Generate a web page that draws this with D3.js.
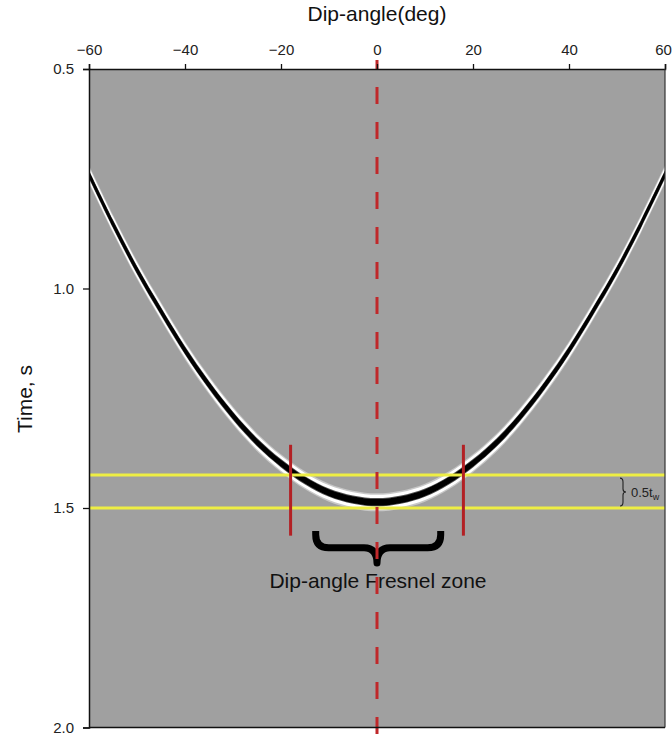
<!DOCTYPE html>
<html>
<head>
<meta charset="utf-8">
<script src="https://cdn.jsdelivr.net/npm/d3@7"></script>
<style>
  html, body { margin: 0; padding: 0; background: #fff; }
  svg { display: block; font-family: "Liberation Sans", Arial, sans-serif; }
</style>
</head>
<body>
<svg id="chart" width="672" height="740"></svg>
<script>
// Dip-angle axis (degrees) and time axis (seconds)
const angleTicks = [-60, -40, -20, 0, 20, 40, 60];
const timeTicks = [0.5, 1.0, 1.5, 2.0];

// Travel time of the event's central peak across dip angles
const dipAngles = [-60, -55, -50, -45, -40, -35, -30, -25, -20, -15, -10, -5, 0,
                   5, 10, 15, 20, 25, 30, 35, 40, 45, 50, 55, 60];
const peakTimes = [0.740, 0.853, 0.958, 1.052, 1.141, 1.220, 1.290, 1.350, 1.398, 1.437, 1.465, 1.481, 1.487,
                   1.481, 1.465, 1.437, 1.398, 1.350, 1.290, 1.220, 1.141, 1.052, 0.958, 0.853, 0.740];

// Reference times bounding half a wavelet period
const zoneTimes = [1.425, 1.5];
// Dip angles limiting the Fresnel zone
const zoneAngles = [-18, 18];
// Extent of the brace beneath the zone
const braceAngles = [-13.5, 14];

const svg = d3.select("#chart");
const x = d3.scaleLinear().domain([-60, 60]).range([89, 665]);
const y = d3.scaleLinear().domain([0.5, 2.0]).range([69, 727.5]);

const fmt = d => d < 0 ? "\u2212" + Math.abs(d) : String(d);

// plot background
svg.append("rect")
  .attr("x", x(-60)).attr("y", y(0.5))
  .attr("width", x(60) - x(-60)).attr("height", y(2.0) - y(0.5))
  .attr("fill", "#a0a0a0");

const defs = svg.append("defs");
defs.append("clipPath").attr("id", "plotClip")
  .append("rect")
  .attr("x", x(-60)).attr("y", y(0.5))
  .attr("width", x(60) - x(-60)).attr("height", y(2.0) - y(0.5));
defs.append("filter").attr("id", "soft")
  .attr("x", "-10%").attr("y", "-10%").attr("width", "120%").attr("height", "120%")
  .append("feGaussianBlur").attr("stdDeviation", 0.6);

// wavelet drawn as layered bands offset in time around the peak
const pts = dipAngles.map((a, i) => ({ a, t: peakTimes[i] }));
const band = half => d3.area()
  .x(d => x(d.a))
  .y0(d => y(d.t - half))
  .y1(d => y(d.t + half))
  .curve(d3.curveCatmullRom.alpha(0.5));

const layers = [
  { half: 0.0205, fill: "#c8c8c8" },
  { half: 0.0170, fill: "#ffffff" },
  { half: 0.0095, fill: "#505050" },
  { half: 0.0074, fill: "#000000" }
];
const wave = svg.append("g").attr("clip-path", "url(#plotClip)")
  .append("g").attr("filter", "url(#soft)");
layers.forEach(l => {
  wave.append("path").datum(pts).attr("d", band(l.half)).attr("fill", l.fill);
});

// horizontal time markers
svg.append("g").selectAll("line").data(zoneTimes).join("line")
  .attr("x1", x(-60)).attr("x2", x(60))
  .attr("y1", d => y(d)).attr("y2", d => y(d))
  .attr("stroke", "#eeee44").attr("stroke-width", 3);

// Fresnel zone limits
svg.append("g").selectAll("line").data(zoneAngles).join("line")
  .attr("x1", d => x(d)).attr("x2", d => x(d))
  .attr("y1", y(1.356)).attr("y2", y(1.563))
  .attr("stroke", "#b32024").attr("stroke-width", 3);

// brace under the zone
const bl = x(braceAngles[0]) + 3.5, br = x(braceAngles[1]) - 3.5, bc = x(0);
const bTop = y(1.5524), bBar = y(1.5905), bTip = y(1.6255);
const r = 13;
svg.append("path")
  .attr("d", `M${bl},${bTop} L${bl},${bBar - r} Q${bl},${bBar} ${bl + r},${bBar} L${bc - r},${bBar} Q${bc},${bBar} ${bc},${bTip}` +
             ` Q${bc},${bBar} ${bc + r},${bBar} L${br - r},${bBar} Q${br},${bBar} ${br},${bBar - r} L${br},${bTop}`)
  .attr("fill", "none").attr("stroke", "#000").attr("stroke-width", 7)
  .attr("stroke-linejoin", "round");

svg.append("text")
  .attr("x", x(0.2)).attr("y", 588)
  .attr("text-anchor", "middle")
  .attr("font-size", 21).attr("fill", "#111")
  .text("Dip-angle Fresnel zone");

// small brace marking half a wavelet period
const sx = 622, sy0 = y(zoneTimes[0]) + 3, sy1 = y(zoneTimes[1]) - 2, sm = (sy0 + sy1) / 2;
svg.append("path")
  .attr("d", `M${sx - 2},${sy0} Q${sx + 1},${sy0} ${sx + 1},${sy0 + 4} L${sx + 1},${sm - 3} Q${sx + 1},${sm} ${sx + 4},${sm}` +
             ` Q${sx + 1},${sm} ${sx + 1},${sm + 3} L${sx + 1},${sy1 - 4} Q${sx + 1},${sy1} ${sx - 2},${sy1}`)
  .attr("fill", "none").attr("stroke", "#222").attr("stroke-width", 1.1);
const lbl = svg.append("text").attr("x", 631).attr("y", 497)
  .attr("font-size", 13).attr("fill", "#222");
lbl.append("tspan").text("0.5t");
lbl.append("tspan").attr("font-size", 9).attr("dy", 3).text("w");

// zero-dip reference
svg.append("line")
  .attr("x1", x(0)).attr("x2", x(0))
  .attr("y1", 60).attr("y2", 740)
  .attr("stroke", "#c0282a").attr("stroke-width", 3)
  .attr("stroke-dasharray", "17,18").attr("stroke-dashoffset", 8);

// axes
const topAxis = svg.append("g").attr("transform", `translate(0,${y(0.5)})`)
  .call(d3.axisTop(x).tickValues(angleTicks).tickFormat(fmt).tickSize(5).tickPadding(9));
const leftAxis = svg.append("g").attr("transform", `translate(${x(-60)},0)`)
  .call(d3.axisLeft(y).tickValues(timeTicks).tickFormat(d3.format(".1f")).tickSize(6).tickPadding(9));
[topAxis, leftAxis].forEach(g => {
  g.select(".domain").attr("stroke", "#111").attr("stroke-width", 1.5);
  g.selectAll(".tick line").attr("stroke", "#111").attr("stroke-width", 1.3);
  g.selectAll(".tick text").attr("font-size", 15).attr("fill", "#222")
    .attr("font-family", "'Liberation Sans', Arial, sans-serif");
});
// keep the last angle label inside the page
topAxis.selectAll(".tick text").filter(d => d === 60).attr("dx", -2);

// right and bottom borders
svg.append("line").attr("x1", x(60)).attr("x2", x(60)).attr("y1", y(0.5)).attr("y2", y(2.0))
  .attr("stroke", "#333").attr("stroke-width", 1.2);
svg.append("line").attr("x1", x(-60)).attr("x2", x(60)).attr("y1", y(2.0)).attr("y2", y(2.0))
  .attr("stroke", "#111").attr("stroke-width", 1.5);

// axis titles
svg.append("text").attr("x", x(0)).attr("y", 21)
  .attr("text-anchor", "middle").attr("font-size", 21).attr("fill", "#111")
  .text("Dip-angle(deg)");
svg.append("text")
  .attr("transform", `translate(32,399) rotate(-90)`)
  .attr("text-anchor", "middle").attr("font-size", 21).attr("fill", "#111")
  .text("Time, s");
</script>
</body>
</html>
